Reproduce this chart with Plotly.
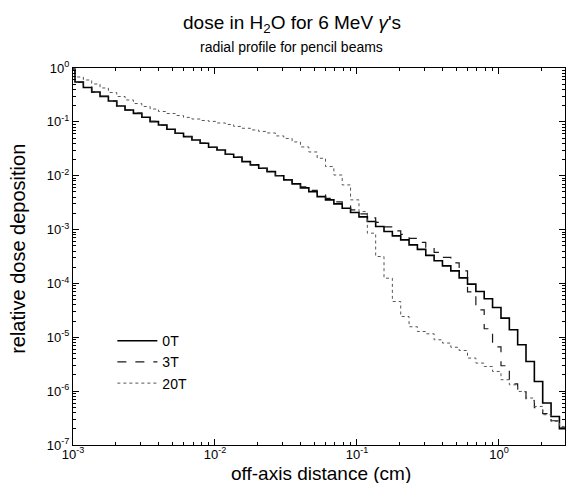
import plotly.graph_objects as go

# bin edges (cm): first bin starts at 1e-3, log-uniform bins (17 per decade)
edges = [1.000e-3,
         1.033e-3, 1.183e-3, 1.354e-3, 1.550e-3, 1.775e-3, 2.032e-3, 2.327e-3, 2.664e-3, 3.051e-3,
         3.493e-3, 3.999e-3, 4.580e-3, 5.243e-3, 6.004e-3, 6.874e-3, 7.870e-3, 9.011e-3,
         1.033e-2, 1.183e-2, 1.354e-2, 1.550e-2, 1.775e-2, 2.032e-2, 2.327e-2, 2.664e-2, 3.051e-2,
         3.493e-2, 3.999e-2, 4.580e-2, 5.243e-2, 6.004e-2, 6.874e-2, 7.870e-2, 9.011e-2,
         0.1033, 0.1183, 0.1354, 0.1550, 0.1775, 0.2032, 0.2327, 0.2664, 0.3051,
         0.3493, 0.3999, 0.4580, 0.5243, 0.6004, 0.6874, 0.7870, 0.9011,
         1.033, 1.183, 1.354, 1.550, 1.775, 2.032, 2.327, 2.664, 3.051]

dose_0T = [0.95, 0.550, 0.435, 0.359, 0.296, 0.244, 0.197, 0.166, 0.144, 0.122, 0.101,
           0.0876, 0.0729, 0.0614, 0.0531, 0.0461, 0.0401, 0.0338, 0.0301, 0.0251, 0.0220,
           0.0183, 0.0159, 0.0138, 0.0119, 0.0100, 0.00836, 0.00705, 0.00594, 0.00507, 0.00409,
           0.00356, 0.00300, 0.00249, 0.00208, 0.00172, 0.00141, 0.00114, 0.000918, 0.000764, 0.000644,
           0.000520, 0.000429, 0.000332, 0.000263, 0.000212, 0.000171, 0.000127, 9.7e-5, 7.07e-5, 5.18e-5,
           3.57e-5, 2.27e-5, 1.38e-5, 7.26e-6, 3.56e-6, 1.51e-6, 6.01e-7, 3.39e-7, 2.01e-7]

dose_3T = [0.95, 0.540, 0.440, 0.355, 0.300, 0.242, 0.199, 0.165, 0.145, 0.121, 0.102,
           0.0870, 0.0740, 0.0610, 0.0535, 0.0460, 0.0405, 0.0335, 0.0305, 0.0250, 0.0222,
           0.0182, 0.0160, 0.0137, 0.0120, 0.0101, 0.00850, 0.00735, 0.00620, 0.00534, 0.00440,
           0.00379, 0.00326, 0.00275, 0.00232, 0.00196, 0.00165, 0.00136, 0.00112, 0.000946, 0.000815,
           0.000687, 0.000579, 0.000467, 0.000378, 0.000305, 0.000241, 0.000171, 6.99e-5, 3.24e-5, 1.44e-5,
           6.66e-6, 2.96e-6, 1.37e-6, 9.74e-7, 6.64e-7, 4.92e-7, 3.81e-7, 2.82e-7, 2.09e-7]

dose_20T = [0.95, 0.681, 0.599, 0.505, 0.426, 0.351, 0.296, 0.255, 0.219, 0.193, 0.173,
            0.156, 0.143, 0.131, 0.121, 0.113, 0.106, 0.102, 0.0954, 0.0895, 0.0822,
            0.0761, 0.0707, 0.0664, 0.0622, 0.0548, 0.0492, 0.0424, 0.0342, 0.0276, 0.0211,
            0.0148, 0.0103, 0.00675, 0.00356, 0.00216, 0.000857, 0.000316, 0.000125, 4.62e-5, 2.43e-5,
            1.57e-5, 1.28e-5, 1.16e-5, 8.99e-6, 7.81e-6, 6.52e-6, 5.69e-6, 4.11e-6, 3.32e-6, 2.87e-6,
            2.32e-6, 1.63e-6, 1.31e-6, 9.87e-7, 7.45e-7, 5.20e-7, 3.65e-7, 2.74e-7, 2.21e-7]

series_names = ["0T", "3T", "20T"]
x_tick_vals = [1e-3, 1e-2, 1e-1, 1]
x_tick_text = ["10<sup>-3</sup>", "10<sup>-2</sup>", "10<sup>-1</sup>", "10<sup>0</sup>"]
y_tick_vals = [1e-7, 1e-6, 1e-5, 1e-4, 1e-3, 1e-2, 1e-1, 1]
y_tick_text = ["10<sup>-7</sup>", "10<sup>-6</sup>", "10<sup>-5</sup>", "10<sup>-4</sup>",
               "10<sup>-3</sup>", "10<sup>-2</sup>", "10<sup>-1</sup>", "10<sup>0</sup>"]

FONT = "Liberation Sans, Arial, sans-serif"

fig = go.Figure()
styles = [dict(color="#000000", width=1.6, dash="solid"),
          dict(color="#1a1a1a", width=1.2, dash="dash"),
          dict(color="#555555", width=1.0, dash="dot")]
for name, vals, st in zip(series_names, [dose_0T, dose_3T, dose_20T], styles):
    fig.add_trace(go.Scatter(x=edges, y=vals + [vals[-1]], mode="lines", name=name,
                             line=dict(shape="hv", **st)))

axis_common = dict(type="log", showgrid=False, zeroline=False, showline=True,
                   linecolor="black", linewidth=1, mirror="allticks",
                   ticks="inside", ticklen=6, tickcolor="black", tickwidth=1,
                   minor=dict(ticks="inside", ticklen=3, tickcolor="black", tickwidth=1,
                              dtick="D1", showgrid=False),
                   tickfont=dict(family=FONT, size=13, color="black"))

fig.update_xaxes(range=[-3, 0.465], tickmode="array", tickvals=x_tick_vals,
                 ticktext=x_tick_text, ticklabelstandoff=-3, **axis_common)
fig.update_yaxes(range=[-7, 0], tickmode="array", tickvals=y_tick_vals,
                 ticktext=y_tick_text, **axis_common)

fig.update_layout(
    width=566, height=483,
    margin=dict(l=73, r=1, t=68, b=38, pad=0),
    paper_bgcolor="white", plot_bgcolor="white",
    font=dict(family=FONT, color="black"),
    showlegend=True,
    legend=dict(x=0.08, y=0.318, xanchor="left", yanchor="top",
                bgcolor="rgba(0,0,0,0)", font=dict(family=FONT, size=14, color="black"),
                tracegroupgap=0, itemwidth=40),
    annotations=[
        dict(text="dose in H<sub>2</sub>O for 6 MeV <i>γ</i>'s", xref="paper", yref="paper",
             x=0.445, y=1.118, xanchor="center", yanchor="middle", showarrow=False,
             font=dict(family=FONT, size=19, color="black")),
        dict(text="radial profile for pencil beams", xref="paper", yref="paper",
             x=0.445, y=1.056, xanchor="center", yanchor="middle", showarrow=False,
             font=dict(family=FONT, size=14, color="black")),
        dict(text="off-axis distance (cm)", xref="paper", yref="paper",
             x=0.504, y=-0.075, xanchor="center", yanchor="middle", showarrow=False,
             font=dict(family=FONT, size=19, color="black")),
        dict(text="relative dose deposition", xref="paper", yref="paper",
             x=-0.112, y=0.52, xanchor="center", yanchor="middle", showarrow=False,
             textangle=-90, font=dict(family=FONT, size=20, color="black")),
    ],
)

fig.write_html("out.html")
